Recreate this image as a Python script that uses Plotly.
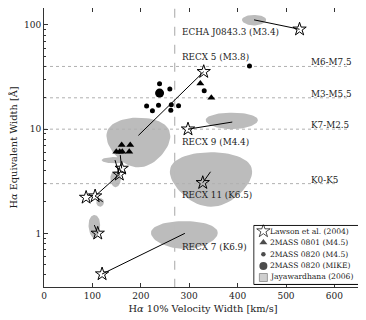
import numpy as np
import plotly.graph_objects as go


# Lawson et al. (2004) Sterne
lawson_x = [528, 330, 297.5, 328, 120, 111, 87, 105.6, 155.6, 160.5]
lawson_y = [91, 35.6, 10.0, 3.06, 0.407, 1.0, 2.21, 2.28, 3.68, 4.2]

# 2MASS 0801 (M4.5)
m0801_x = [149.4, 156.4, 161.7, 176.1, 160.5, 178.2, 323, 345.7]
m0801_y = [6.07, 6.07, 6.07, 6.07, 7.04, 7.04, 27.5, 20.0]

# 2MASS 0820 (M4.5)
m0820_x = [212, 224, 236.6, 238.7, 260, 263, 262, 278, 331, 424.5]
m0820_y = [16.7, 15.0, 17.0, 27.3, 24.3, 17.2, 15.2, 16.8, 23.4, 40.3]

# 2MASS 0820 (MIKE)
mike_x = [238.8]
mike_y = [22.2]

# Jayawardhana (2006): Mittelpunkt und Halbachsen der Ellipsen
ell_x = [434, 195, 147, 148, 116, 104, 290, 345, 388]
ell_y = [112, 8.6, 5.05, 3.37, 1.99, 1.2, 1.01, 3.9, 12.2]
ell_w = [25, 66, 28, 11, 8, 12, 69, 85, 54]
ell_h = [13, 4.3, 0.35, 0.6, 0.19, 0.3, 0.3, 2.1, 2.2]

# Verbindungslinien
link_x0 = [528, 330, 297.5, 328, 120, 111, 105.6, 105.6, 155.6, 160.5]
link_y0 = [91, 35.6, 10.0, 3.06, 0.407, 1.0, 2.28, 2.28, 3.68, 4.2]
link_x1 = [434, 195, 389, 344, 291, 104, 121.4, 155.6, 146.7, 157.6]
link_y1 = [112, 8.7, 11.7, 3.9, 1.0, 1.2, 2.01, 3.68, 5.05, 5.64]

# Objektnamen
name_text = ["ECHA J0843.3 (M3.4)", "RECX 5 (M3.8)", "RECX 9 (M4.4)",
             "RECX 11 (K6.5)", "RECX 7 (K6.9)"]
name_y = [86.4, 49.2, 7.6, 2.31, 0.747]

# Spektraltyp-Grenzen
sp_text = ["M6-M7.5", "M3-M5.5", "K7-M2.5", "K0-K5"]
sp_y = [40, 20, 10, 3]
sp_end = [632, 632, 632, 602]

# Legende
legend_names = ["Lawson et al. (2004)", "2MASS 0801 (M4.5)", "2MASS 0820 (M4.5)",
                "2MASS 0820 (MIKE)", "Jayawardhana (2006)"]
legend_symbols = ["star-open", "triangle-up", "circle", "circle", "square"]
legend_sizes = [10, 7, 4.5, 8, 8]
legend_colors = ["black", "black", "black", "black", "#bcbcbc"]

vel_cut = 270

FONT = "DejaVu Serif"
TXT = "#222"


def ellipse_path(cx, cy, w, h):
    xs, ys = [], []
    t = np.linspace(0, 2 * np.pi, 73)
    for x, y, a, b in zip(cx, cy, w, h):
        xs += list(x + a * np.cos(t)) + [None]
        ys += list(y + b * np.sin(t)) + [None]
    return xs, ys


def segments(x0, y0, x1, y1):
    xs, ys = [], []
    for a, b, c, d in zip(x0, y0, x1, y1):
        xs += [a, c, None]
        ys += [b, d, None]
    return xs, ys


fig = go.Figure()

ex, ey = ellipse_path(ell_x, ell_y, ell_w, ell_h)
fig.add_trace(go.Scatter(
    x=ex, y=ey, mode="lines", fill="toself", fillcolor="#bcbcbc",
    line=dict(width=0, color="#bcbcbc"), hoverinfo="skip",
))

# Hilfslinien
for y, xe in zip(sp_y, sp_end):
    fig.add_trace(go.Scatter(
        x=[0, xe], y=[y, y], mode="lines", hoverinfo="skip",
        line=dict(color="#b0b0b0", width=1, dash="dot"),
    ))
fig.add_trace(go.Scatter(
    x=[vel_cut, vel_cut], y=[0.3, 153], mode="lines",
    hoverinfo="skip", line=dict(color="#bbbbbb", width=1.3, dash="dash"),
))

lx, ly = segments(link_x0, link_y0, link_x1, link_y1)
fig.add_trace(go.Scatter(
    x=lx, y=ly, mode="lines", line=dict(color="black", width=1),
))

fig.add_trace(go.Scatter(
    x=lawson_x, y=lawson_y, mode="markers",
    marker=dict(symbol="star-open", size=10, color="black", line=dict(width=1)),
))
fig.add_trace(go.Scatter(
    x=m0801_x, y=m0801_y, mode="markers",
    marker=dict(symbol="triangle-up", size=7, color="black"),
))
fig.add_trace(go.Scatter(
    x=m0820_x, y=m0820_y, mode="markers",
    marker=dict(symbol="circle", size=5, color="black"),
))
fig.add_trace(go.Scatter(
    x=mike_x, y=mike_y, mode="markers",
    marker=dict(symbol="circle", size=9, color="black"),
))

# Legende von Hand (Plotly-Legende ist zu hoch)
box_y = [0.897, 0.708, 0.509, 0.314, 0.125]
leg_y = [0.198, 0.159, 0.117, 0.076, 0.0373]
fig.add_trace(go.Scatter(
    x=[0.005, 0.995, 0.995, 0.005, 0.005], y=[0.01, 0.01, 0.99, 0.99, 0.01],
    xaxis="x2", yaxis="y2", mode="lines", fill="toself", fillcolor="white",
    line=dict(color="black", width=1), hoverinfo="skip",
))
fig.add_trace(go.Scatter(
    x=[0.0955] * 5, y=box_y, xaxis="x2", yaxis="y2", mode="markers",
    marker=dict(symbol=legend_symbols, size=legend_sizes, color=legend_colors,
                line=dict(width=[1, 0, 0, 0, 0.8], color="#555")),
))
for t, y in zip(legend_names, leg_y):
    fig.add_annotation(xref="paper", yref="paper", x=0.7055, y=y, text=t,
                       showarrow=False, xanchor="left", yanchor="middle",
                       font=dict(family=FONT, size=7.6, color=TXT))

for t, y in zip(name_text, name_y):
    fig.add_annotation(x=281, y=np.log10(y), text=t, showarrow=False,
                       xanchor="left", yanchor="middle",
                       font=dict(family=FONT, size=8.8, color=TXT))
for t, y in zip(sp_text, sp_y):
    fig.add_annotation(x=548, y=np.log10(y), text=t, showarrow=False,
                       xanchor="left", yanchor="bottom", yshift=-3,
                       font=dict(family=FONT, size=8.8, color=TXT))

axis_style = dict(
    showline=True, linecolor="#333", linewidth=1, mirror="ticks",
    ticks="inside", ticklen=4, tickcolor="#333", showgrid=False,
    zeroline=False, automargin=False,
    tickfont=dict(family=FONT, size=9, color=TXT),
)

fig.update_xaxes(
    range=[0, 657], tickvals=[0, 100, 200, 300, 400, 500, 600],
    title=dict(text="H<i>α</i> 10% Velocity Width [km/s]", standoff=5,
               font=dict(family=FONT, size=9.8, color=TXT)),
    **axis_style,
)
fig.update_yaxes(
    type="log", range=[-0.515, 2.163],
    tickvals=[1, 10, 100], ticktext=["1", "10", "100"],
    minor=dict(ticks="inside", ticklen=2, tickcolor="#333", dtick="D1"),
    title=dict(text="H<i>α</i> Equivalent Width [Å]", standoff=5,
               font=dict(family=FONT, size=9.8, color=TXT)),
    **axis_style,
)

# Seite hat 8px Rand im Body -> Figur entsprechend kleiner
fig.update_layout(
    width=358, height=312,
    margin=dict(l=36, r=4, t=0, b=33),
    paper_bgcolor="white", plot_bgcolor="white",
    font=dict(family=FONT),
    showlegend=False,
    xaxis2=dict(domain=[0.658, 0.992], range=[0, 1], anchor="y2",
                visible=False, fixedrange=True),
    yaxis2=dict(domain=[0.007, 0.223], range=[0, 1], anchor="x2",
                visible=False, fixedrange=True),
)

fig.write_html("out.html")
